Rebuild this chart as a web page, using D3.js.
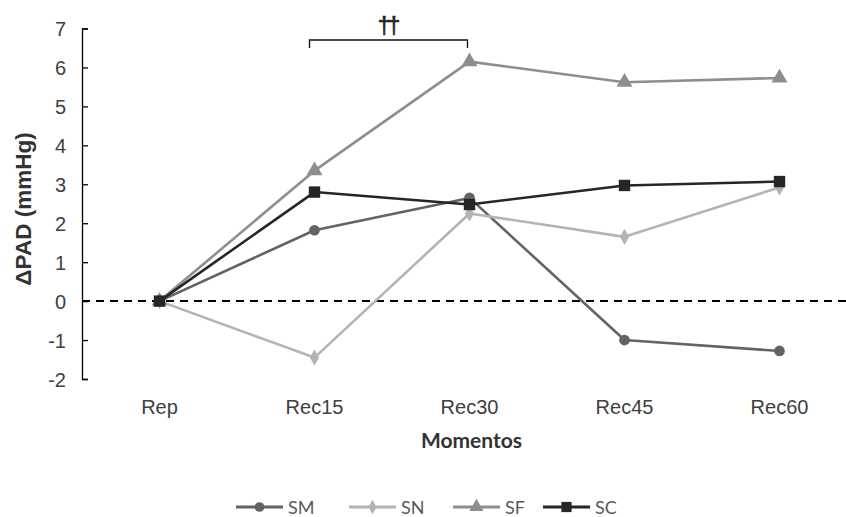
<!DOCTYPE html>
<html>
<head>
<meta charset="utf-8">
<script src="https://cdn.jsdelivr.net/npm/d3@7"></script>
<style>
  html, body { margin: 0; padding: 0; background: #fff; }
  svg { display: block; }
</style>
</head>
<body>
<svg id="chart" width="846" height="517"></svg>
<script>
// Recovery moments (x categories)
const momentos = ["Rep", "Rec15", "Rec30", "Rec45", "Rec60"];

// Change in diastolic blood pressure (mmHg) per session
const serieSM = [0, 1.82, 2.65, -1.0, -1.28];
const serieSN = [0, -1.45, 2.25, 1.65, 2.92];
const serieSF = [0, 3.35, 6.15, 5.62, 5.73];
const serieSC = [0, 2.8, 2.48, 2.97, 3.07];

const yTicks = [-2, -1, 0, 1, 2, 3, 4, 5, 6, 7];

const series = [
  { name: "SM", values: serieSM, color: "#636363", symbol: "circle" },
  { name: "SN", values: serieSN, color: "#b4b4b4", symbol: "diamond" },
  { name: "SF", values: serieSF, color: "#8e8e8e", symbol: "triangle" },
  { name: "SC", values: serieSC, color: "#262626", symbol: "square" }
];

const svg = d3.select("#chart");
const plotLeft = 82, plotTop = 28.5, plotBottom = 379;
const arial = "Liberation Sans, Arial, sans-serif";

const x = d3.scaleBand().domain(momentos).range([plotLeft, plotLeft + 775]);
const y = d3.scaleLinear().domain([-2, 7]).range([plotBottom, plotTop]);
const cx = d => x(d) + x.bandwidth() / 2;

// y axis with inward ticks; plain hyphen for negatives
const yAxis = d3.axisLeft(y).tickValues(yTicks).tickSizeInner(-6).tickSizeOuter(-6)
  .tickFormat(d => String(d));
const gy = svg.append("g").attr("transform", `translate(${plotLeft},0)`).call(yAxis);
gy.select(".domain").attr("stroke", "#000").attr("stroke-width", 1.3);
gy.selectAll(".tick line").attr("stroke", "#000").attr("stroke-width", 1.3);
gy.selectAll(".tick text")
  .attr("font-family", arial)
  .attr("font-size", 20).attr("fill", "#404040").attr("x", -16).attr("dy", "0.36em");

// zero reference line
svg.append("line")
  .attr("x1", plotLeft).attr("x2", 846)
  .attr("y1", y(0)).attr("y2", y(0))
  .attr("stroke", "#000").attr("stroke-width", 2)
  .attr("stroke-dasharray", "8,6");

// x category labels
svg.append("g").selectAll("text").data(momentos).join("text")
  .attr("x", d => cx(d)).attr("y", 414)
  .attr("text-anchor", "middle")
  .attr("font-family", arial)
  .attr("font-size", 20).attr("fill", "#404040")
  .text(d => d);

// axis titles
svg.append("text")
  .attr("x", cx("Rec30") + 2).attr("y", 448)
  .attr("text-anchor", "middle")
  .attr("font-family", "Lato, Open Sans, sans-serif")
  .attr("font-weight", "bold").attr("font-size", 21).attr("fill", "#333")
  .text("Momentos");

svg.append("text")
  .attr("transform", `translate(31,209) rotate(-90)`)
  .attr("text-anchor", "middle")
  .attr("font-family", arial)
  .attr("font-weight", "bold").attr("font-size", 22.5).attr("fill", "#333")
  .text("ΔPAD (mmHg)");

// significance bracket between Rec15 and Rec30
const bx1 = cx("Rec15") - 5, bx2 = cx("Rec30") - 2, by = 40;
svg.append("path")
  .attr("d", `M${bx1},${by + 8}V${by}H${bx2}V${by + 8}`)
  .attr("fill", "none").attr("stroke", "#111").attr("stroke-width", 1.3);
svg.append("text")
  .attr("x", (bx1 + bx2) / 2 - 1).attr("y", 34)
  .attr("text-anchor", "middle")
  .attr("font-family", arial)
  .attr("font-size", 23).attr("fill", "#222").attr("letter-spacing", -3)
  .attr("stroke", "#222").attr("stroke-width", 0.6)
  .text("††");

const symbolType = {
  circle: d3.symbolCircle, diamond: d3.symbolDiamond,
  triangle: d3.symbolTriangle, square: d3.symbolSquare
};
const symbolSize = { circle: 90, diamond: 75, triangle: 110, square: 130 };

const line = d3.line().x((d, i) => cx(momentos[i])).y(d => y(d));

series.forEach(s => {
  const g = svg.append("g");
  g.append("path").datum(s.values)
    .attr("d", line).attr("fill", "none")
    .attr("stroke", s.color).attr("stroke-width", 2.6)
    .attr("stroke-linejoin", "round");
  g.selectAll("path.pt").data(s.values).join("path").attr("class", "pt")
    .attr("transform", (d, i) => `translate(${cx(momentos[i])},${y(d)})`)
    .attr("d", d3.symbol().type(symbolType[s.symbol]).size(symbolSize[s.symbol]))
    .attr("fill", s.color);
});

// legend
const legendX = [236, 349, 453, 543];
const lg = svg.append("g");
series.forEach((s, i) => {
  const gx = legendX[i], gyl = 507;
  lg.append("line").attr("x1", gx).attr("x2", gx + 47)
    .attr("y1", gyl).attr("y2", gyl)
    .attr("stroke", s.color).attr("stroke-width", 2.8);
  lg.append("path")
    .attr("transform", `translate(${gx + 23.5},${gyl})`)
    .attr("d", d3.symbol().type(symbolType[s.symbol]).size(symbolSize[s.symbol] * 0.8))
    .attr("fill", s.color);
  lg.append("text").attr("x", gx + 52).attr("y", gyl + 7)
    .attr("font-family", "Lato, Open Sans, sans-serif")
    .attr("font-size", 18).attr("fill", "#595959")
    .text(s.name);
});
</script>
</body>
</html>
